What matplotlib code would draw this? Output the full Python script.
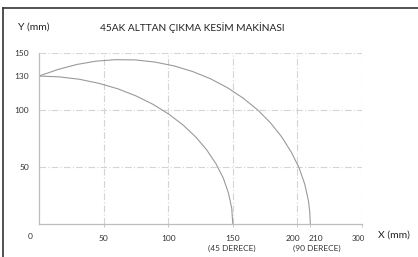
import numpy as np
import matplotlib
matplotlib.use('Agg')
import matplotlib.pyplot as plt
import matplotlib.transforms as mtransforms
from matplotlib.lines import Line2D

# Lato, Calibri'ye en yakın yazı tipi
plt.rcParams['font.family'] = ['Lato', 'DejaVu Sans']

# 45 derece kesim eğrisi (X, Y mm)
x_45 = [0, 15.7, 31.2, 46.4, 61.0, 75.0, 88.2, 100.4, 111.5, 121.4, 129.9,
        137.0, 142.7, 146.7, 149.2, 150]
y_45 = [130, 129.3, 127.2, 123.6, 118.8, 112.6, 105.2, 96.6, 87.0, 76.4, 65.0,
        52.9, 40.2, 27.0, 13.6, 0]

# 90 derece kesim eğrisi (X, Y mm)
x_90 = [0, 14.7, 29.3, 44.2, 59.3, 74.6, 89.7, 104.6, 118.9, 132.8, 145.8,
        157.9, 169.1, 179.1, 187.8, 195.2, 201.3, 205.7, 208.6, 209.6, 210]
y_90 = [130, 135.8, 140.2, 143.1, 144.4, 144.2, 142.3, 138.9, 134.0, 127.6, 119.8,
        110.7, 100.4, 89.0, 76.6, 63.3, 49.4, 35.0, 20.1, 10.1, 0]

# eksen yazıları
x_ticks = [50, 100, 150, 200, 210, 300]
y_ticks = [50, 100, 130, 150]
x_grid = [50, 100, 150, 200, 300]
y_grid = [50, 100, 150]
aci_x = [150, 210]
aci_yazi = ['(45 DERECE)', '(90 DERECE)']

# X ekseni eşit aralıklı değil: 0..200 ve 300 eşit aralıkta, 210 hemen 200'ün yanında
x_nodes = [0, 50, 100, 150, 200, 210, 300]
x_pos = [0, 1, 2, 3, 4, 4.2, 5]


def ileri(v):
    return np.interp(v, x_nodes, x_pos)


def geri(v):
    return np.interp(v, x_pos, x_nodes)


fig = plt.figure(figsize=(4.18, 2.57), dpi=100)
ax = fig.add_axes([0.0933, 0.1284, 0.7727, 0.6642])
ax.set_xscale('function', functions=(ileri, geri))

gri = '#9a9a9a'
izgara = '#d4d4d4'
yazi = '#333333'

for v in x_grid:
    ax.axvline(v, color=izgara, lw=0.8, ls=(0, (6, 2, 1, 2)), zorder=0)
for v in y_grid:
    ax.axhline(v, color=izgara, lw=0.8, ls=(0, (6, 2, 1, 2)), zorder=0)

ax.plot(x_45, y_45, color=gri, lw=0.8)
ax.plot(x_90, y_90, color=gri, lw=0.8)

ax.set_xlim(0, 300)
ax.set_ylim(0, 150)

ax.set_xticks(x_ticks)
ax.set_xticklabels([str(v) for v in x_ticks], fontsize=6, color=yazi)
ax.set_yticks(y_ticks)
ax.set_yticklabels([str(v) for v in y_ticks], fontsize=6, color=yazi)
ax.tick_params(axis='x', length=2, width=0.6, color='#bbbbbb', pad=6)
ax.tick_params(axis='y', length=0, pad=7)

# 200 ile 210 yazıları birbirine girmesin
kaydir = {3: -3, 4: 4, 5: -3}
etiketler = ax.xaxis.get_majorticklabels()
for i, dx in kaydir.items():
    etiketler[i].set_transform(etiketler[i].get_transform() +
                               mtransforms.ScaledTranslation(dx / 72, 0, fig.dpi_scale_trans))
etiketler[5].set_fontsize(5.5)

# derece açıklamaları
for xv, t, dx in zip(aci_x, aci_yazi, [-1, 5]):
    ax.annotate(t, xy=(xv, 0), xytext=(dx, -17.5), textcoords='offset points',
                ha='center', va='center', fontsize=6, color=yazi)

for s in ['top', 'right']:
    ax.spines[s].set_visible(False)
for s in ['left', 'bottom']:
    ax.spines[s].set_color('#bdbdbd')
    ax.spines[s].set_linewidth(0.9)

# köşedeki 0
ax.annotate('0', xy=(0, 0), xytext=(-6, -9), textcoords='offset points',
            ha='center', va='center', fontsize=6, color=yazi)

fig.text(0.043, 0.893, 'Y (mm)', fontsize=7.5, color='#222222', va='center')
fig.text(0.239, 0.893, '45AK ALTTAN ÇIKMA KESİM MAKİNASI', fontsize=7.3,
         color='#222222', va='center')
fig.text(0.904, 0.086, 'X (mm)', fontsize=7.5, color='#222222', va='center')

# çerçeve
fig.add_artist(Line2D([0.008, 1.0], [0.968, 0.968], color='#333333', lw=1.2))
fig.add_artist(Line2D([0.008, 0.008], [0.0, 0.968], color='#333333', lw=1.2))

fig.savefig('out.png', dpi=100)
